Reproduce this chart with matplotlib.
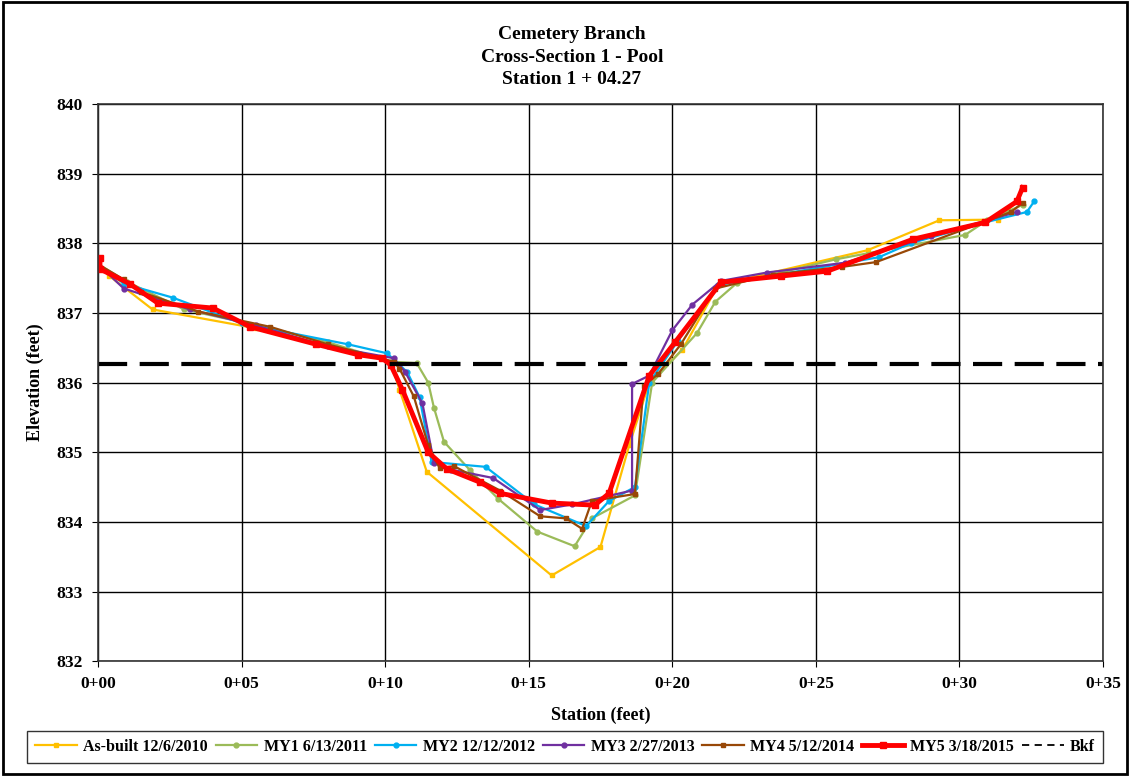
import numpy as np
import matplotlib
matplotlib.use("Agg")
import matplotlib.pyplot as plt
from matplotlib.lines import Line2D
from matplotlib.ticker import MultipleLocator, FuncFormatter

# cross-section survey data (station ft, elevation ft)
asbuilt_x = [0.0, 0.4, 1.9, 5.5, 10.2, 10.5, 11.45, 15.8, 17.5, 18.5, 19.2, 20.35, 21.6, 26.8, 29.3, 31.35, 32.0]
asbuilt_y = [837.7, 837.53, 837.05, 836.78, 836.3, 835.9, 834.72, 833.23, 833.64, 835.1, 836.0, 836.47, 837.4, 837.9, 838.33, 838.34, 838.6]

my1_x = [0.0, 1.0, 3.0, 6.0, 8.0, 10.2, 11.1, 11.5, 11.7, 12.05, 12.96, 13.94, 15.3, 16.6, 17.2, 18.7, 19.3, 20.86, 21.5, 22.25, 25.7, 30.2, 30.96, 32.2]
my1_y = [837.7, 837.45, 837.05, 836.78, 836.58, 836.3, 836.28, 836.0, 835.64, 835.15, 834.74, 834.33, 833.86, 833.65, 834.05, 834.38, 836.0, 836.71, 837.16, 837.43, 837.77, 838.12, 838.33, 838.55]

my2_x = [0.0, 0.9, 2.6, 5.0, 8.7, 10.07, 10.77, 11.2, 11.62, 13.5, 15.2, 17.0, 17.8, 18.7, 19.2, 20.2, 21.6, 27.2, 28.3, 30.9, 32.35, 32.6]
my2_y = [837.7, 837.42, 837.22, 836.85, 836.55, 836.42, 836.15, 835.79, 834.86, 834.79, 834.25, 833.94, 834.3, 834.5, 836.0, 836.6, 837.4, 837.8, 838.0, 838.3, 838.45, 838.6]

my3_x = [0.0, 0.9, 3.2, 5.5, 8.0, 10.3, 10.7, 11.3, 11.7, 12.3, 13.76, 15.4, 16.5, 18.6, 18.6, 19.2, 20.0, 20.7, 21.7, 23.3, 26.0, 29.0, 32.0]
my3_y = [837.7, 837.35, 837.05, 836.82, 836.52, 836.35, 836.15, 835.7, 834.85, 834.75, 834.63, 834.17, 834.25, 834.45, 835.98, 836.1, 836.75, 837.12, 837.46, 837.58, 837.72, 838.1, 838.45]

my4_x = [0.0, 0.9, 1.5, 3.5, 6.0, 8.0, 10.3, 10.5, 11.0, 11.5, 11.9, 12.4, 14.0, 15.4, 16.3, 16.86, 17.2, 18.7, 19.0, 19.5, 20.3, 21.5, 23.5, 25.9, 27.1, 31.8, 32.2]
my4_y = [837.7, 837.48, 837.3, 837.02, 836.8, 836.55, 836.3, 836.2, 835.8, 835.1, 834.77, 834.8, 834.45, 834.08, 834.05, 833.9, 834.3, 834.4, 835.95, 836.12, 836.55, 837.35, 837.55, 837.66, 837.73, 838.45, 838.58]

my5_x = [0.07, 0.07, 1.1, 2.09, 4.0, 5.3, 7.6, 9.06, 9.9, 10.2, 10.6, 11.5, 12.15, 13.3, 14.0, 15.8, 17.3, 17.8, 19.2, 20.1, 21.7, 23.8, 25.4, 28.4, 30.9, 32.0, 32.2]
my5_y = [837.79, 837.63, 837.42, 837.14, 837.07, 836.8, 836.55, 836.4, 836.35, 836.25, 835.9, 835.0, 834.76, 834.57, 834.41, 834.27, 834.24, 834.41, 836.1, 836.58, 837.44, 837.53, 837.6, 838.06, 838.3, 838.6, 838.8]

bkf = 836.27

labels = ["As-built 12/6/2010", "MY1 6/13/2011", "MY2 12/12/2012", "MY3 2/27/2013",
          "MY4 5/12/2014", "MY5 3/18/2015", "Bkf"]

plt.rcParams['font.family'] = ['Liberation Serif', 'DejaVu Serif']
plt.rcParams['font.weight'] = 'bold'

fig = plt.figure(figsize=(11.3, 7.76), dpi=100)
ax = fig.add_axes([0.0867, 0.148, 0.8894, 0.718])

h = []
h += ax.plot(asbuilt_x, asbuilt_y, '-s', color='#FFC000', lw=1.6, ms=3.5, label=labels[0])
h += ax.plot(my1_x, my1_y, '-o', color='#9BBB59', lw=1.6, ms=3.5, label=labels[1])
h += ax.plot(my2_x, my2_y, '-o', color='#00B0F0', lw=1.6, ms=3.5, label=labels[2])
h += ax.plot(my3_x, my3_y, '-o', color='#7030A0', lw=1.6, ms=3.5, label=labels[3])
h += ax.plot(my4_x, my4_y, '-s', color='#984807', lw=1.6, ms=3.5, label=labels[4])
h += ax.plot(my5_x, my5_y, '-s', color='#FF0000', lw=3.5, ms=5, label=labels[5])
ax.axhline(bkf, color='black', lw=3, linestyle=(0, (7, 3)))
# thinner dashes for legend entry
h.append(Line2D([], [], color='black', lw=1.3, linestyle=(0, (4, 3)), label=labels[6]))

ax.set_xlim(0, 35)
ax.set_ylim(832, 840)
ax.xaxis.set_major_locator(MultipleLocator(5))
ax.yaxis.set_major_locator(MultipleLocator(1))
ax.xaxis.set_major_formatter(FuncFormatter(lambda v, p: "0+%02d" % int(round(v))))
ax.grid(True, color='black', lw=1)
ax.tick_params(labelsize=12.5, length=4, direction='out')
ax.tick_params(axis='y', pad=7)
ax.tick_params(axis='x', pad=7)
for t in ax.get_xticklabels() + ax.get_yticklabels():
    t.set_fontweight('bold')
for s in ax.spines.values():
    s.set_linewidth(1.2)
    s.set_color('#333333')

ax.set_xlabel("Station (feet)", fontsize=13, fontweight='bold')
ax.set_ylabel("Elevation (feet)", fontsize=13, fontweight='bold')
ax.yaxis.set_label_coords(-0.0537, 0.5)
ax.xaxis.set_label_coords(0.5, -0.0826)

fig.text(0.506, 0.9265, "Cemetery Branch\nCross-Section 1 - Pool\nStation 1 + 04.27",
         fontsize=14, fontweight='bold', ha='center', va='center', linespacing=1.42)

leg = fig.legend(handles=h, loc='center', bbox_to_anchor=(565 / 1130, 1 - 747 / 776), ncol=7,
                 fontsize=11.5, frameon=True, fancybox=False, edgecolor='black',
                 handlelength=2.6, handletextpad=0.4, columnspacing=0.5, borderpad=0.5,
                 bbox_transform=fig.transFigure)
leg.get_frame().set_linewidth(1)

# outer frame
fig.patches.append(plt.Rectangle((0.003, 0.003), 0.994, 0.994, transform=fig.transFigure,
                                 fill=False, edgecolor='black', lw=2))

fig.savefig("out.png", dpi=100)
